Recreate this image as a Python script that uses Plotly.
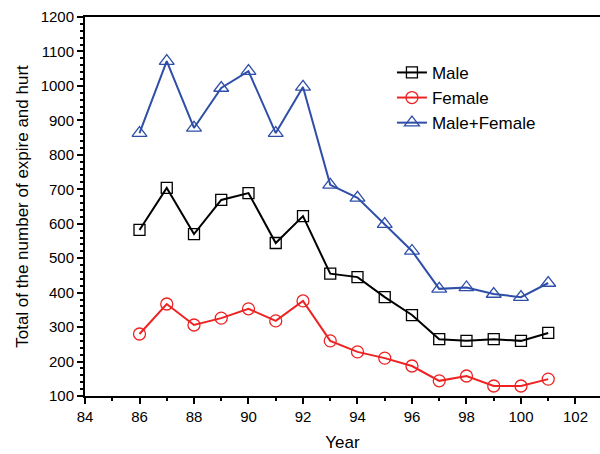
import plotly.graph_objects as go

years = [86, 87, 88, 89, 90, 91, 92, 93, 94, 95, 96, 97, 98, 99, 100, 101]
male = [582, 704, 570, 669, 689, 544, 622, 455, 445, 387, 335, 265, 260, 265, 260, 283]
female = [280, 367, 306, 326, 353, 318, 376, 260, 228, 210, 187, 144, 158, 129, 129, 149]
total = [863, 1072, 878, 994, 1043, 863, 997, 713, 675, 599, 521, 411, 415, 396, 387, 428]

FONT = "Liberation Sans, Arial, sans-serif"

fig = go.Figure()
fig.add_trace(go.Scatter(x=years, y=male, name="Male", mode="lines+markers",
                         line=dict(color="black", width=2),
                         marker=dict(symbol="square-open", size=11, color="black", line=dict(width=1.3))))
fig.add_trace(go.Scatter(x=years, y=female, name="Female", mode="lines+markers",
                         line=dict(color="#ee2222", width=2),
                         marker=dict(symbol="circle-open", size=12, color="#ee2222", line=dict(width=1.3))))
fig.add_trace(go.Scatter(x=years, y=total, name="Male+Female", mode="lines+markers",
                         line=dict(color="#2e4ea8", width=2),
                         marker=dict(symbol="triangle-up-open", size=13, color="#2e4ea8", line=dict(width=1.3))))

fig.update_layout(
    width=600, height=454,
    margin=dict(l=85, r=0, t=17, b=58),
    plot_bgcolor="white", paper_bgcolor="white",
    font=dict(family=FONT, color="black"),
    showlegend=True,
    legend=dict(x=0.596, y=0.90, xanchor="left", yanchor="top",
                bgcolor="rgba(0,0,0,0)", font=dict(size=17, family=FONT),
                tracegroupgap=0, itemsizing="trace"),
)
fig.update_xaxes(
    range=[84, 102.9], tickmode="array", tickvals=[84, 86, 88, 90, 92, 94, 96, 98, 100, 102],
    ticks="outside", ticklen=6, tickwidth=2, tickcolor="black",
    minor=dict(dtick=1, tick0=84, ticks="outside", ticklen=3, tickwidth=1.5, tickcolor="black"),
    showline=True, linecolor="black", linewidth=2, mirror=True,
    showgrid=False, zeroline=False, automargin=False,
    tickfont=dict(size=15, family=FONT),
    title=dict(text="Year", font=dict(size=17, family=FONT), standoff=12),
)
fig.update_yaxes(
    range=[100, 1200], dtick=100, tick0=100,
    ticks="outside", ticklen=6, tickwidth=2, tickcolor="black",
    minor=dict(dtick=20, tick0=100, ticks="outside", ticklen=3, tickwidth=1.5, tickcolor="black"),
    showline=True, linecolor="black", linewidth=2, mirror=True,
    showgrid=False, zeroline=False, automargin=False,
    tickfont=dict(size=15, family=FONT),
    title=dict(text="Total of the number of expire and hurt", font=dict(size=17, family=FONT), standoff=8),
)

fig.write_html("out.html", config={"displayModeBar": False},
               post_script="document.body.style.margin='0';document.body.style.overflow='hidden';")
